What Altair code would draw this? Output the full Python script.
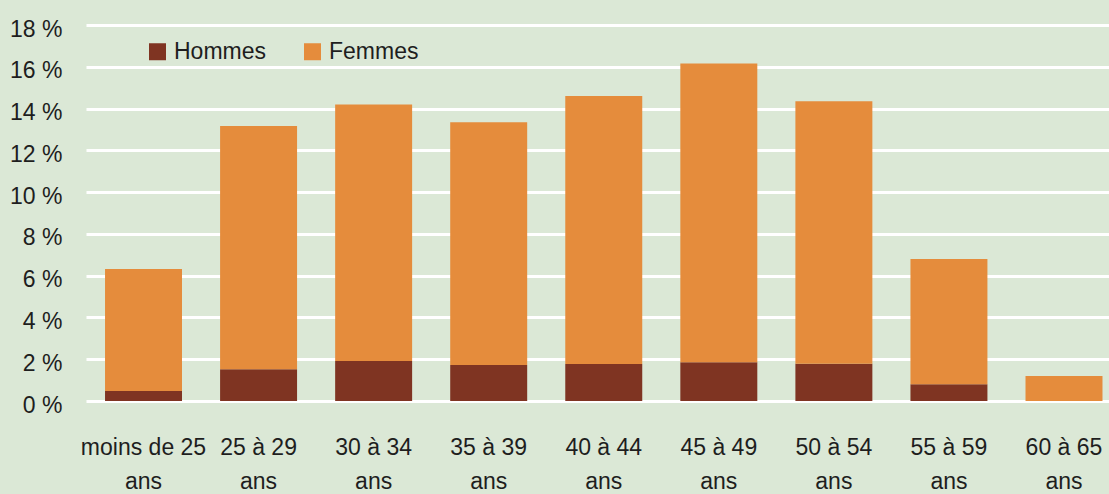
import altair as alt
import pandas as pd

# Tranches d'âge et parts (en %) par sexe
tranches = [
    "moins de 25 ans", "25 à 29 ans", "30 à 34 ans", "35 à 39 ans",
    "40 à 44 ans", "45 à 49 ans", "50 à 54 ans", "55 à 59 ans", "60 à 65 ans",
]
hommes = [0.48, 1.52, 1.91, 1.72, 1.77, 1.85, 1.78, 0.80, 0.0]
femmes = [5.84, 11.64, 12.29, 11.63, 12.83, 14.31, 12.57, 6.00, 1.20]
sexes = ["Hommes", "Femmes"]
couleurs = ["#7f3422", "#e58c3c"]
graduations = [0, 2, 4, 6, 8, 10, 12, 14, 16, 18]

rows = []
for t, h, f in zip(tranches, hommes, femmes):
    rows.append({"tranche": t, "sexe": "Hommes", "part": h, "ordre": 0})
    rows.append({"tranche": t, "sexe": "Femmes", "part": f, "ordre": 1})
df = pd.DataFrame(rows)

FONT = "Liberation Sans"
SIZE = 23
TEXT = "#1e1e1e"

chart = (
    alt.Chart(df)
    .mark_bar()
    .encode(
        x=alt.X(
            "tranche:N",
            sort=tranches,
            title=None,
            scale=alt.Scale(paddingInner=0.331, paddingOuter=0.111, align=0.745),
            axis=alt.Axis(
                labelAngle=0,
                labelExpr="[replace(datum.label, ' ans', ''), 'ans']",
                labelFont=FONT,
                labelFontSize=SIZE,
                labelColor=TEXT,
                labelPadding=35,
                labelLineHeight=34,
                labelLimit=200,
                domain=False,
                ticks=False,
                grid=False,
            ),
        ),
        y=alt.Y(
            "part:Q",
            stack="zero",
            title=None,
            scale=alt.Scale(domain=[0, 18], nice=False),
            axis=alt.Axis(
                values=graduations,
                labelExpr="datum.value + ' %'",
                labelFont=FONT,
                labelFontSize=SIZE,
                labelColor=TEXT,
                labelPadding=24,
                labelOffset=4,
                domain=False,
                ticks=False,
                grid=True,
                gridColor="#ffffff",
                gridWidth=3,
                gridOpacity=1,
            ),
        ),
        color=alt.Color(
            "sexe:N",
            scale=alt.Scale(domain=sexes, range=couleurs),
            legend=alt.Legend(
                title=None,
                orient="none",
                direction="horizontal",
                legendX=60,
                legendY=15,
                symbolType="square",
                symbolSize=289,
                symbolStrokeWidth=0,
                symbolOpacity=1,
                labelFont=FONT,
                labelFontSize=SIZE,
                labelColor=TEXT,
                labelOffset=5,
                columnPadding=34,
            ),
        ),
        order=alt.Order("ordre:Q", sort="ascending"),
    )
    .properties(
        width=1023,
        height=376,
        background="#dbe8d6",
        padding={"left": 86, "top": 25, "right": 0, "bottom": 93},
        autosize=alt.AutoSizeParams(type="none"),
    )
    .configure_view(stroke=None, fill="#dbe8d6")
)

chart.save("out.html", embed_options={"renderer": "svg", "actions": False})
